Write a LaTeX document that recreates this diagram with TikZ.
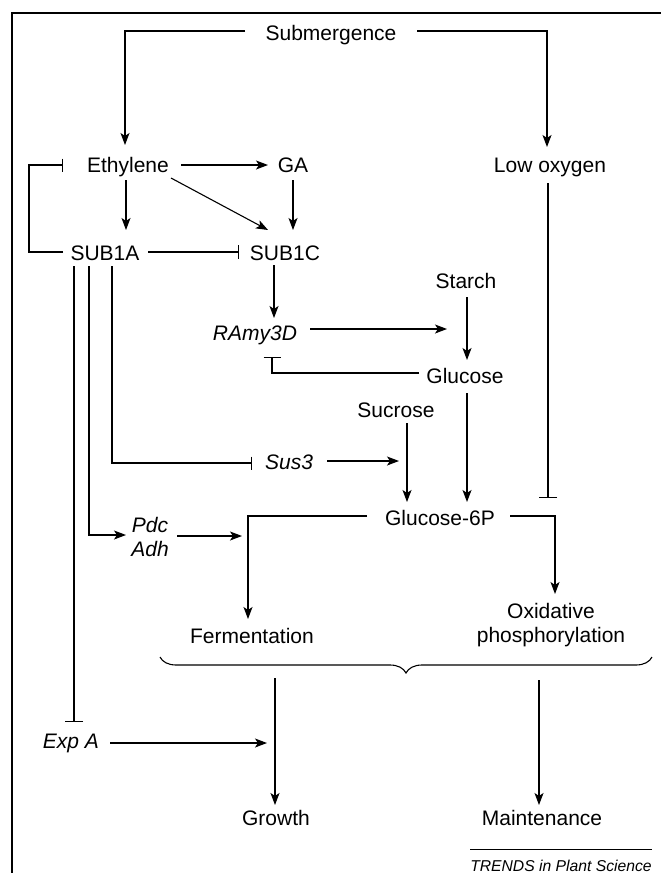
\documentclass[tikz,border=0pt]{standalone}
\usepackage{fontspec}
\setmainfont{Liberation Sans}
\usetikzlibrary{arrows.meta,calc,decorations.pathreplacing}
\begin{document}
\begin{tikzpicture}[x=1pt,y=-1pt,
  lbl/.style={inner sep=0pt, anchor=base, font=\fontsize{21}{24}\selectfont},
  itl/.style={inner sep=0pt, anchor=base, font=\fontsize{21}{24}\selectfont\itshape},
  lbltwo/.style={inner sep=0pt, anchor=center, align=center, font=\fontsize{21}{24}\selectfont},
  conn/.style={line width=1.1pt},
  arr/.style={conn, -{Stealth[length=12pt,width=9pt,inset=3pt]}},
  inh/.style={conn, -{Bar[width=#1,line width=1.1pt]}},
  inh/.default=15pt,
  frame/.style={line width=1.5pt}]
\useasboundingbox (0,0) rectangle (661,873);
% frame
\draw[frame] (12,873) -- (12,13) -- (661,13);
% nodes
\node[lbl] (sub) at (331,40) {Submergence};
\node[lbl] (eth) at (128,172) {Ethylene};
\node[lbl] (ga) at (293,172) {GA};
\node[lbl] (lox) at (550,172) {Low oxygen};
\node[lbl] (s1a) at (105,260) {SUB1A};
\node[lbl] (s1c) at (285,260) {SUB1C};
\node[itl] (ramy) at (255,340) {RAmy3D};
\node[lbl] (starch) at (466,288) {Starch};
\node[lbl] (glu) at (465,383) {Glucose};
\node[lbl] (suc) at (396,417) {Sucrose};
\node[itl] (sus) at (289,469) {Sus3};
\node[lbltwo, font=\fontsize{21}{24}\selectfont\itshape] (pdc) at (150,537) {Pdc\\Adh};
\node[lbl] (g6p) at (440,525) {Glucose-6P};
\node[lbl] (ferm) at (252,643) {Fermentation};
\node[lbltwo] (oxp) at (551,625.5) {Oxidative\\phosphorylation};
\node[itl] (expa) at (71,748) {Exp A};
\node[lbl] (growth) at (276,825) {Growth};
\node[lbl] (maint) at (542,825) {Maintenance};
\node[inner sep=0pt, anchor=base, font=\fontsize{15.7}{18}\selectfont\itshape] (trends) at (561,871) {TRENDS in Plant Science};
% connectors
\draw[arr] ($(sub.base)+(-86,-9)$) -| ($(eth.base)+(-3,-27)$);
\draw[arr] ($(sub.base)+(86,-9)$) -| ($(lox.base)+(-3,-25)$);
\draw[arr] ($(eth.base)+(53,-7)$) -- ($(ga.base)+(-25,-7)$);
\draw[arr] ($(eth.base)+(-2,8)$) -- ($(s1a.base)+(21,-30)$);
\draw[arr] ($(eth.base)+(43,6)$) -- ($(s1c.base)+(-17,-30)$);
\draw[arr] ($(ga.base)+(0,8)$) -- ($(s1c.base)+(8,-30)$);
\draw[inh=13pt] ($(s1a.base)+(-42,-8)$) -- ++(-34,0) |- ($(eth.base)+(-65,-7)$);
\draw[inh=14pt] ($(s1a.base)+(43,-8)$) -- ($(s1c.base)+(-46,-8)$);
\draw[arr] ($(s1c.base)+(-11,5)$) -- ($(ramy.base)+(19,-22)$);
\draw[arr] ($(ramy.base)+(55,-11)$) -- ($(glu.base)+(-18,-54)$);
\draw[arr] ($(starch.base)+(1,9)$) -- ($(glu.base)+(2,-23)$);
\draw[inh=17pt] ($(glu.base)+(-46,-10)$) -| ($(ramy.base)+(17,17)$);
\draw[arr] ($(glu.base)+(2,10)$) -- ($(g6p.base)+(27,-23)$);
\draw[arr] ($(suc.base)+(11,6)$) -- ($(g6p.base)+(-33,-23)$);
\draw[arr] ($(sus.base)+(38,-8)$) -- ($(suc.base)+(3,44)$);
\draw[inh=13pt] ($(s1a.base)+(7,6)$) |- ($(sus.base)+(-37,-6)$);
\draw[arr] ($(s1a.base)+(-16,6)$) |- ($(pdc.center)+(-24,-2)$);
\draw[inh=18pt] ($(s1a.base)+(-31,6)$) -- ($(expa.base)+(3,-26)$);
\draw[arr] ($(pdc.center)+(27,-1)$) -- ($(ferm.base)+(-10,-107)$);
\draw[arr] ($(g6p.base)+(-73,-9)$) -| ($(ferm.base)+(-4,-24)$);
\draw[arr] ($(g6p.base)+(70,-9)$) -| ($(oxp.center)+(4,-31.5)$);
\draw[inh=18pt] ($(lox.base)+(-2,11)$) -- ($(lox.base)+(-2,326)$);
\draw[conn, decorate, decoration={brace, amplitude=16pt}] ($(oxp.center)+(101,31.5)$) -- ($(ferm.base)+(-92,14)$);
\draw[arr] ($(growth.base)+(-1,-147)$) -- ($(growth.base)+(-1,-20)$);
\draw[arr] ($(maint.base)+(-3,-145)$) -- ($(maint.base)+(-3,-20)$);
\draw[arr] ($(expa.base)+(39,-5)$) -- ($(growth.base)+(-9,-82)$);
\draw[line width=1pt] ($(trends.base)+(-91,-22)$) -- ($(trends.base)+(91,-22)$);
\end{tikzpicture}
\end{document}
